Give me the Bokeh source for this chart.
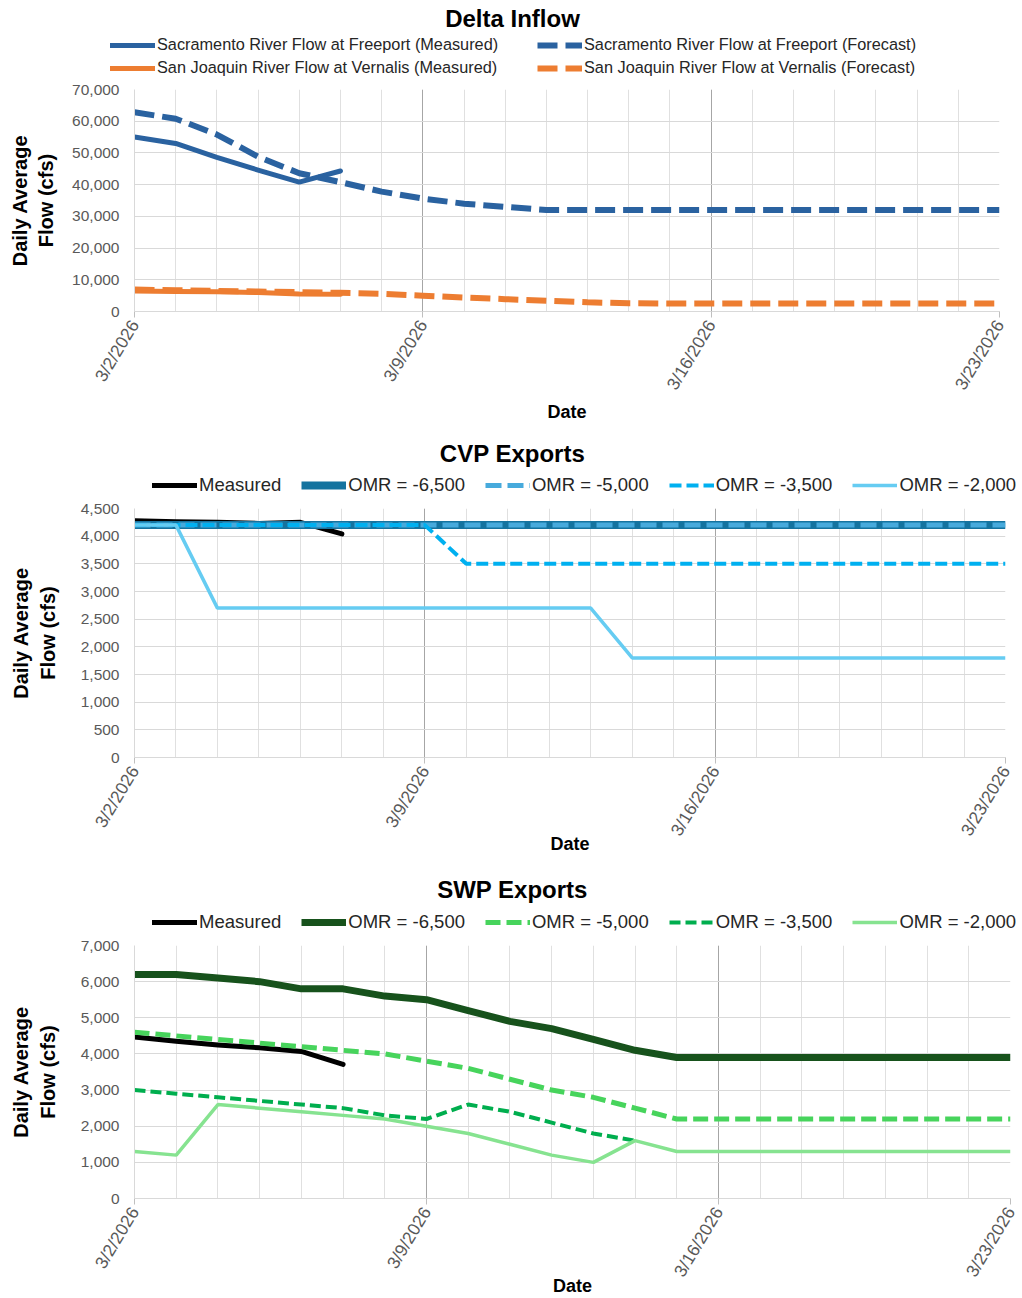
import pandas as pd
from bokeh.plotting import figure
from bokeh.layouts import column
from bokeh.models import FixedTicker, NumeralTickFormatter, Legend, LegendItem, Label, Range1d
from bokeh.embed import file_html
from bokeh.resources import INLINE

# ---------------- data ----------------
dates = pd.date_range("2026-03-02", "2026-03-23", freq="D")
x_days = list((dates - dates[0]).days)
major_days = [0, 7, 14, 21]
x_tick_labels = ["3/2/2026", "3/9/2026", "3/16/2026", "3/23/2026"]

# Delta Inflow (cfs)
sac_measured = [55000, 53000, 48600, 44600, 40800, 44300]
sac_forecast = [62800, 60800, 55800, 48800, 43600, 40800, 37800, 35600, 34000, 33000, 32000,
                32000, 32000, 32000, 32000, 32000, 32000, 32000, 32000, 32000, 32000, 32000]
sj_measured = [6500, 6300, 6200, 6000, 5500, 5400]
sj_forecast = [6900, 6700, 6500, 6300, 6100, 5900, 5600, 5000, 4400, 3900, 3400,
               2900, 2600, 2500, 2500, 2500, 2500, 2500, 2500, 2500, 2500, 2500]

# CVP Exports (cfs)
cvp_measured = [4280, 4260, 4250, 4230, 4250, 4040]
cvp_omr_6500 = [4200, 4200, 4200, 4200, 4200, 4200, 4200, 4200, 4200, 4200, 4200,
                4200, 4200, 4200, 4200, 4200, 4200, 4200, 4200, 4200, 4200, 4200]
cvp_omr_5000 = [4200, 4200, 4200, 4200, 4200, 4200, 4200, 4200, 4200, 4200, 4200,
                4200, 4200, 4200, 4200, 4200, 4200, 4200, 4200, 4200, 4200, 4200]
cvp_omr_3500 = [4200, 4200, 4200, 4200, 4200, 4200, 4200, 4200, 3500, 3500, 3500,
                3500, 3500, 3500, 3500, 3500, 3500, 3500, 3500, 3500, 3500, 3500]
cvp_omr_2000 = [4200, 4200, 2700, 2700, 2700, 2700, 2700, 2700, 2700, 2700, 2700,
                2700, 1800, 1800, 1800, 1800, 1800, 1800, 1800, 1800, 1800, 1800]

# SWP Exports (cfs)
swp_measured = [4470, 4350, 4250, 4170, 4070, 3710]
swp_omr_6500 = [6200, 6200, 6100, 6000, 5800, 5800, 5600, 5500, 5200, 4900, 4700,
                4400, 4100, 3900, 3900, 3900, 3900, 3900, 3900, 3900, 3900, 3900]
swp_omr_5000 = [4600, 4500, 4400, 4300, 4200, 4100, 4000, 3800, 3600, 3300, 3000,
                2800, 2500, 2200, 2200, 2200, 2200, 2200, 2200, 2200, 2200, 2200]
swp_omr_3500 = [3000, 2900, 2800, 2700, 2600, 2500, 2300, 2200, 2600, 2400, 2100,
                1800, 1600]
swp_omr_2000 = [1300, 1200, 2600, 2500, 2400, 2300, 2200, 2000, 1800, 1500, 1200,
                1000, 1600, 1300, 1300, 1300, 1300, 1300, 1300, 1300, 1300, 1300]

FONT = "Liberation Sans"
W = 1022

# line styles
S_SAC_M = dict(line_color="#2A62A0", line_width=5, line_cap="round", line_join="round")
S_SAC_F = dict(line_color="#2A62A0", line_width=6, line_dash="20 8")
S_SJ_M = dict(line_color="#ED7D31", line_width=5, line_cap="round", line_join="round")
S_SJ_F = dict(line_color="#ED7D31", line_width=6, line_dash="20 8")
S_MEAS = dict(line_color="black", line_width=5, line_cap="round", line_join="round")
S_C65 = dict(line_color="#14739F", line_width=8)
S_C50 = dict(line_color="#47AADC", line_width=5, line_dash="16 6")
S_C35 = dict(line_color="#00B0F0", line_width=4, line_dash="12 5")
S_C20 = dict(line_color="#66CCF2", line_width=3.5)
S_S65 = dict(line_color="#17521C", line_width=7)
S_S50 = dict(line_color="#47D45C", line_width=5, line_dash="15 6")
S_S35 = dict(line_color="#00AE4E", line_width=4, line_dash="11 5")
S_S20 = dict(line_color="#86E390", line_width=3.5)


def make_fig(ymax, ystep, frame_w, frame_h, bottom, ylabel_standoff, xlabel_standoff):
    left = 134
    p = figure(frame_width=frame_w, frame_height=frame_h, output_backend="svg",
               toolbar_location=None, x_range=Range1d(0, 21), y_range=Range1d(0, ymax),
               min_border_left=left, min_border_right=W - left - frame_w,
               min_border_top=10, min_border_bottom=bottom, title=None)
    p.frame_align = False
    p.outline_line_color = None
    # x axis
    p.xaxis.ticker = FixedTicker(ticks=major_days, minor_ticks=x_days)
    p.xaxis.major_label_overrides = {d: l for d, l in zip(major_days, x_tick_labels)}
    p.xaxis.major_label_orientation = 1.03
    p.xaxis.major_label_text_font = FONT
    p.xaxis.major_label_text_font_size = "17.5px"
    p.xaxis.major_label_text_color = "#595959"
    p.xaxis.major_tick_out = 6
    p.xaxis.major_tick_in = 0
    p.xaxis.minor_tick_out = 0
    p.xaxis.minor_tick_in = 0
    p.xaxis.major_tick_line_color = "#BFBFBF"
    p.xaxis.axis_line_color = "#D9D9D9"
    p.xaxis.axis_label = "Date"
    p.xaxis.axis_label_text_font = FONT
    p.xaxis.axis_label_text_font_style = "bold"
    p.xaxis.axis_label_text_font_size = "18px"
    p.xaxis.axis_label_text_color = "black"
    p.xaxis.major_label_standoff = 4
    p.xaxis.axis_label_standoff = xlabel_standoff
    # y axis
    p.yaxis.ticker = FixedTicker(ticks=list(range(0, ymax + 1, ystep)))
    p.yaxis.formatter = NumeralTickFormatter(format="0,0")
    p.yaxis.major_label_text_font = FONT
    p.yaxis.major_label_text_font_size = "15.5px"
    p.yaxis.major_label_text_color = "#595959"
    p.yaxis.major_tick_out = 0
    p.yaxis.major_tick_in = 0
    p.yaxis.minor_tick_out = 0
    p.yaxis.axis_line_color = "#D9D9D9"
    p.yaxis.axis_label = "Daily Average\nFlow (cfs)"
    p.yaxis.axis_label_text_font = FONT
    p.yaxis.axis_label_text_font_style = "bold"
    p.yaxis.axis_label_text_font_size = "20px"
    p.yaxis.axis_label_text_color = "black"
    p.yaxis.major_label_standoff = 15
    p.yaxis.axis_label_standoff = ylabel_standoff
    # grids
    p.xgrid.ticker = FixedTicker(ticks=[7, 14], minor_ticks=x_days)
    p.xgrid.grid_line_color = "#A6A6A6"
    p.xgrid.minor_grid_line_color = "#E0E0E0"
    p.ygrid.grid_line_color = "#D9D9D9"
    return p


def make_header(H, title, title_from_top, rows):
    """Title and legend strip. rows: (vx, vy, font, spacing, label_width, [(label, xs, ys, style)])
    The legend's renderers use the series themselves; in this strip's pixel ranges they lie
    out of view, so only their legend glyphs show."""
    h = figure(width=W, height=H, x_range=Range1d(0, W), y_range=Range1d(0, H),
               min_border=0, toolbar_location=None, output_backend="svg",
               x_axis_location=None, y_axis_location=None, title=None)
    h.frame_align = False
    h.grid.visible = False
    h.outline_line_color = None
    h.add_layout(Label(x=512, y=H - title_from_top, text=title, text_align="center",
                       text_baseline="middle", text_font=FONT, text_font_size="24px",
                       text_font_style="bold", text_color="black"))
    for vx, vy, font, spacing, lw, entries in rows:
        items = []
        for lab, xs, ys, st in entries:
            r = h.line(xs, ys, **st)
            items.append(LegendItem(label=lab, renderers=[r]))
        leg = Legend(items=items, location=(vx, vy), orientation="horizontal",
                     label_text_font=FONT, label_text_font_size=font,
                     label_text_color="#262626", glyph_width=45, glyph_height=18,
                     label_height=18, label_width=lw, label_standoff=2,
                     spacing=spacing, padding=0, margin=0, border_line_color=None,
                     background_fill_alpha=0)
        h.add_layout(leg, "center")
    return h


# ---------- Chart 1: Delta Inflow ----------
h1 = make_header(79, "Delta Inflow", 18, [
    (110, 25, "16.3px", 35, 345, [
        ("Sacramento River Flow at Freeport (Measured)", x_days[:len(sac_measured)], sac_measured, S_SAC_M),
        ("Sacramento River Flow at Freeport (Forecast)", x_days, sac_forecast, S_SAC_F)]),
    (110, 2, "16.3px", 35, 345, [
        ("San Joaquin River Flow at Vernalis (Measured)", x_days[:len(sj_measured)], sj_measured, S_SJ_M),
        ("San Joaquin River Flow at Vernalis (Forecast)", x_days, sj_forecast, S_SJ_F)]),
])
p1 = make_fig(70000, 10000, 865, 222, 119, 12, 0)
p1.line(x_days[:len(sac_measured)], sac_measured, **S_SAC_M)
p1.line(x_days, sac_forecast, **S_SAC_F)
p1.line(x_days[:len(sj_measured)], sj_measured, **S_SJ_M)
p1.line(x_days, sj_forecast, **S_SJ_F)

# ---------- Chart 2: CVP Exports ----------
h2 = make_header(68, "CVP Exports", 23, [
    (152, 2, "18.5px", 20, 20, [
        ("Measured", x_days[:len(cvp_measured)], cvp_measured, S_MEAS),
        ("OMR = -6,500", x_days, cvp_omr_6500, S_C65),
        ("OMR = -5,000", x_days, cvp_omr_5000, S_C50),
        ("OMR = -3,500", x_days, cvp_omr_3500, S_C35),
        ("OMR = -2,000", x_days, cvp_omr_2000, S_C20)]),
])
p2 = make_fig(4500, 500, 871, 249, 108, 19, -14)
p2.line(x_days[:len(cvp_measured)], cvp_measured, **S_MEAS)
p2.line(x_days, cvp_omr_6500, **S_C65)
p2.line(x_days, cvp_omr_5000, **S_C50)
p2.line(x_days, cvp_omr_3500, **S_C35)
p2.line(x_days, cvp_omr_2000, **S_C20)

# ---------- Chart 3: SWP Exports ----------
h3 = make_header(70, "SWP Exports", 24, [
    (152, 2, "18.5px", 20, 20, [
        ("Measured", x_days[:len(swp_measured)], swp_measured, S_MEAS),
        ("OMR = -6,500", x_days, swp_omr_6500, S_S65),
        ("OMR = -5,000", x_days, swp_omr_5000, S_S50),
        ("OMR = -3,500", x_days[:len(swp_omr_3500)], swp_omr_3500, S_S35),
        ("OMR = -2,000", x_days, swp_omr_2000, S_S20)]),
])
p3 = make_fig(7000, 1000, 876, 253, 98, 19, -13)
p3.line(x_days[:len(swp_measured)], swp_measured, **S_MEAS)
p3.line(x_days, swp_omr_6500, **S_S65)
p3.line(x_days, swp_omr_5000, **S_S50)
p3.line(x_days[:len(swp_omr_3500)], swp_omr_3500, **S_S35)
p3.line(x_days, swp_omr_2000, **S_S20)

layout = column(h1, p1, h2, p2, h3, p3, spacing=0)
open("out.html", "w").write(file_html(layout, INLINE))
